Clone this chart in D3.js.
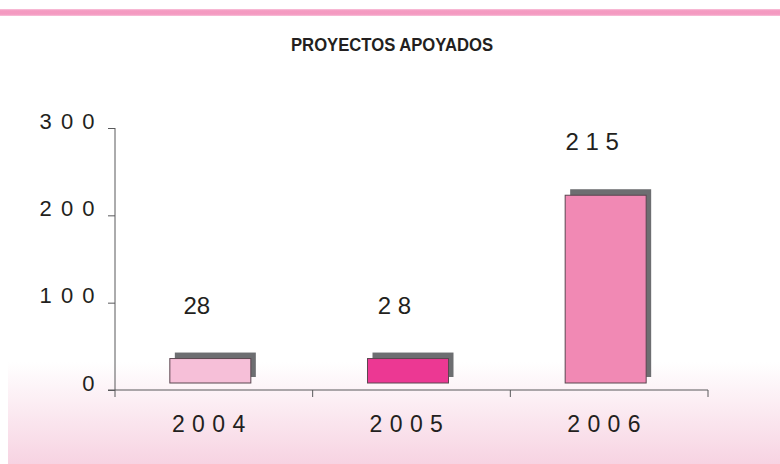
<!DOCTYPE html>
<html><head><meta charset="utf-8">
<script src="https://cdn.jsdelivr.net/npm/d3@7"></script>
<style>body{margin:0;background:#fff}svg{display:block}</style>
</head><body>
<script>
const categories = ["2004", "2005", "2006"];
const values = [28, 28, 215];
const valueLabels = ["28", "2 8", "2 1 5"];
const yTicks = [0, 100, 200, 300];
const barColors = ["#f6bfd8", "#ec3893", "#f189b4"];
const title = "PROYECTOS APOYADOS";

const W = 780, H = 464;
const spaced = s => String(s).split("").join(" ");
const svg = d3.select("body").append("svg").attr("width", W).attr("height", H);
const defs = svg.append("defs");
const bg = defs.append("linearGradient").attr("id", "bg").attr("x1", 0).attr("y1", 0).attr("x2", 0).attr("y2", 1);
bg.append("stop").attr("offset", "0%").attr("stop-color", "#ffffff");
bg.append("stop").attr("offset", "100%").attr("stop-color", "#f7d3e2");
const band = defs.append("linearGradient").attr("id", "band").attr("x1", 0).attr("y1", 0).attr("x2", 0).attr("y2", 1);
band.append("stop").attr("offset", "0%").attr("stop-color", "#f8c3da");
band.append("stop").attr("offset", "25%").attr("stop-color", "#f49ac1");
band.append("stop").attr("offset", "75%").attr("stop-color", "#f49ac1");
band.append("stop").attr("offset", "100%").attr("stop-color", "#f8c3da");

svg.append("rect").attr("x", 8).attr("y", 362).attr("width", W - 8).attr("height", H - 362).attr("fill", "url(#bg)");
svg.append("rect").attr("x", 0).attr("y", 9).attr("width", W).attr("height", 7).attr("fill", "url(#band)");

svg.append("text").attr("x", 392).attr("y", 51).attr("text-anchor", "middle")
  .attr("font-family", "'Liberation Sans Narrow', 'Arial Narrow', sans-serif").attr("font-weight", "bold")
  .attr("font-size", 19).attr("fill", "#231f20").attr("textLength", 202).attr("lengthAdjust", "spacingAndGlyphs")
  .text(title);

const x = d3.scaleBand().domain(categories).range([115, 708]).padding(0);
const y = d3.scaleLinear().domain([0, 300]).range([390, 128]);
const axisColor = "#58595b";
const font = "'Liberation Sans', Arial, sans-serif";

// y axis
const gy = svg.append("g").attr("transform", "translate(115,0)")
  .call(d3.axisLeft(y).tickValues(yTicks).tickSize(7).tickPadding(12).tickFormat(d => spaced(d)));
gy.select(".domain").remove();
gy.selectAll(".tick line").attr("stroke", axisColor);
gy.selectAll(".tick text").attr("dy", "0").attr("font-family", font).attr("font-size", 22)
  .attr("fill", "#231f20").attr("letter-spacing", "1.5px");
svg.append("line").attr("x1", 115).attr("x2", 115).attr("y1", y(300)).attr("y2", 397).attr("stroke", axisColor);

// x axis
const gx = svg.append("g").attr("transform", "translate(0,390)")
  .call(d3.axisBottom(x).tickSize(0).tickPadding(0).tickFormat(d => spaced(d)));
gx.select(".domain").remove();
gx.selectAll(".tick text").attr("x", -5).attr("y", 42).attr("dy", "0").attr("font-family", font)
  .attr("font-size", 23).attr("fill", "#231f20").attr("letter-spacing", "0.5px");
svg.append("line").attr("x1", 108).attr("x2", 708).attr("y1", 390).attr("y2", 390).attr("stroke", axisColor);
svg.selectAll("line.xt").data(categories).join("line").attr("class", "xt")
  .attr("x1", d => x(d) + x.bandwidth()).attr("x2", d => x(d) + x.bandwidth())
  .attr("y1", 390).attr("y2", 397).attr("stroke", axisColor);

// bars
const barW = 81, off = 5, lift = 7;
const data = categories.map((c, i) => ({c, v: values[i], col: barColors[i], lab: valueLabels[i]}));
const cx = d => x(d.c) + x.bandwidth() / 2;
const bx = d => cx(d) - (barW + off) / 2 - 1;
svg.selectAll("rect.shadow").data(data).join("rect").attr("class", "shadow")
  .attr("x", d => bx(d) + off).attr("y", d => y(d.v) - lift - off - 1)
  .attr("width", barW).attr("height", d => y(0) - y(d.v))
  .attr("fill", "#6d6e71");
svg.selectAll("rect.bar").data(data).join("rect").attr("class", "bar")
  .attr("x", d => bx(d)).attr("y", d => y(d.v) - lift)
  .attr("width", barW).attr("height", d => y(0) - y(d.v))
  .attr("fill", d => d.col).attr("stroke", "#5b4650").attr("stroke-width", 1);

svg.selectAll("text.val").data(data).join("text").attr("class", "val")
  .attr("x", d => cx(d) - 17).attr("y", d => y(d.v) - lift - 45)
  .attr("text-anchor", "middle").attr("font-family", font).attr("font-size", 24)
  .attr("fill", "#231f20").text(d => d.lab);
</script>
</body></html>
